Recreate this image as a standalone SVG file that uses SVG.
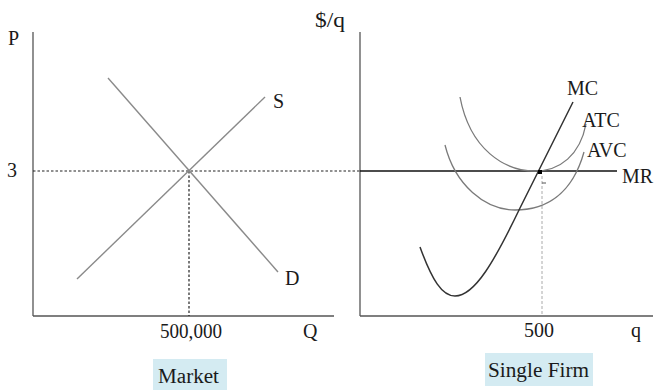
<svg xmlns="http://www.w3.org/2000/svg" width="657" height="390" viewBox="0 0 657 390">
<style>
text{font-family:"Liberation Serif","Times New Roman",serif;font-size:20px;fill:#1a1a1a}
.axis{stroke:#555;stroke-width:1.3;fill:none}
.sd{stroke:#8a8a8a;stroke-width:1.4;fill:none}
.dot{stroke:#222;stroke-width:1.2;stroke-dasharray:2.5 2;fill:none}
.cost{stroke:#7a7a7a;stroke-width:1.3;fill:none}
.box{fill:#d4ebf2}
</style>
<rect width="657" height="390" fill="#fff"/>
<g id="market-axes">
<line class="axis" x1="33" y1="32" x2="33" y2="316"/>
<line class="axis" x1="33" y1="316" x2="334" y2="316"/>
<text x="8" y="45">P</text>
<text x="7" y="177">3</text>
<text x="160" y="338" textLength="62" lengthAdjust="spacingAndGlyphs">500,000</text>
<text x="303" y="338">Q</text>
</g>
<g id="firm-axes">
<line class="axis" x1="360" y1="32" x2="360" y2="316"/>
<line class="axis" x1="360" y1="316" x2="653" y2="316"/>
<text x="315" y="27" textLength="30" lengthAdjust="spacingAndGlyphs">$/q</text>
<text x="524" y="337">500</text>
<text x="631" y="337">q</text>
</g>
<g id="connectors">
<line class="dot" x1="33" y1="171" x2="360" y2="171"/>
<line class="dot" x1="189" y1="171" x2="189" y2="316"/>
<line x1="542" y1="176" x2="542" y2="316" stroke="#aaa" stroke-width="1" stroke-dasharray="3 2"/>
</g>
<g id="demand">
<line class="sd" x1="108" y1="78" x2="278" y2="272"/>
<text x="285" y="285">D</text>
</g>
<g id="supply">
<line class="sd" x1="77" y1="279" x2="265" y2="97"/>
<text x="273" y="108">S</text>
</g>
<g id="mr">
<line x1="360" y1="171" x2="617" y2="171" stroke="#111" stroke-width="1.4"/>
<text x="622" y="183">MR</text>
</g>
<g id="atc">
<path class="cost" d="M460,97 C470,150 505,171 535,171 C560,171 580,155 586,124"/>
<text x="582" y="127">ATC</text>
</g>
<g id="avc">
<path class="cost" d="M445,145 C455,185 485,210 515,210 C545,210 572,195 584,152"/>
<text x="587" y="157">AVC</text>
</g>
<g id="mc">
<path d="M420,247 C432,280 442,296 455,296 C475,296 495,260 520,208 L573,102" stroke="#333" stroke-width="1.5" fill="none"/>
<text x="567" y="95">MC</text>
</g>
<g id="equilibrium">
<rect x="538" y="170" width="4" height="4" fill="#000"/>
<line x1="542" y1="183" x2="546" y2="183" stroke="#555" stroke-width="1"/>
</g>
<g id="market-label">
<rect class="box" x="153" y="359" width="74" height="31"/>
<text x="158" y="383" textLength="61" lengthAdjust="spacingAndGlyphs">Market</text>
</g>
<g id="firm-label">
<rect class="box" x="485" y="353" width="108" height="33"/>
<text x="488" y="377" textLength="101" lengthAdjust="spacingAndGlyphs">Single Firm</text>
</g>
</svg>
